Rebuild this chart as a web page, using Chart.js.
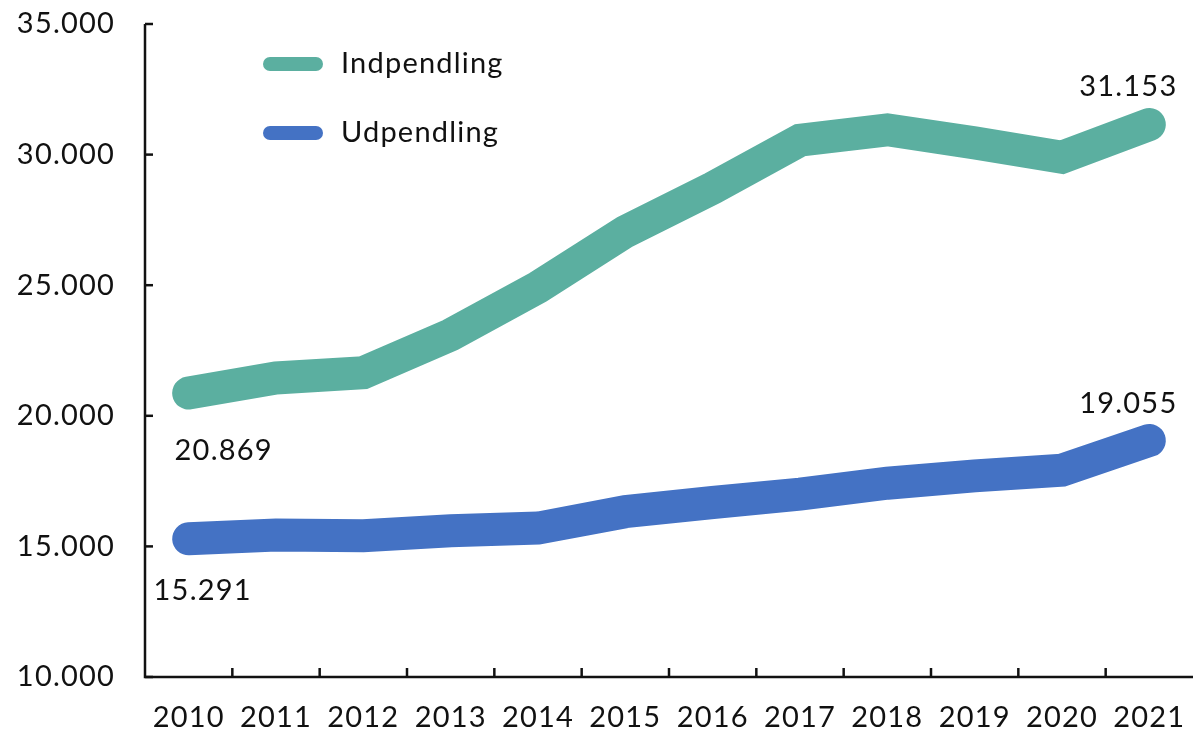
<!DOCTYPE html>
<html>
<head>
<meta charset="utf-8">
<script src="https://cdn.jsdelivr.net/npm/chart.js@4/dist/chart.umd.min.js"></script>
<style>
  html, body { margin: 0; padding: 0; background: #fff; }
  #wrap { width: 1193px; height: 729px; }
</style>
</head>
<body>
<div id="wrap"><canvas id="myChart"></canvas></div>
<script>
// Data
const years = ['2010', '2011', '2012', '2013', '2014', '2015', '2016', '2017', '2018', '2019', '2020', '2021'];
const indpendling = [20869, 21450, 21650, 23100, 24920, 27050, 28720, 30550, 30950, 30450, 29900, 31153];
const udpendling = [15291, 15440, 15410, 15600, 15700, 16330, 16680, 17000, 17420, 17700, 17920, 19055];
const seriesNames = ['Indpendling', 'Udpendling'];
const colors = ['#5bafa0', '#4472c4'];

const FONT = 'Lato, "Open Sans", sans-serif';
const FSIZE = 29;
const fmt = v => Math.round(v).toString().replace(/\B(?=(\d{3})+(?!\d))/g, '.');

// lidt bredere skrift
const spacing = {
    id: 'spacing',
    beforeDraw(chart) { chart.ctx.letterSpacing = '1.2px'; }
};

// Akser, tick-streger, legend og datalabels tegnes selv
const decor = {
    id: 'decor',
    afterDraw(chart) {
        const ctx = chart.ctx;
        const a = chart.chartArea;
        const y = chart.scales.y;
        ctx.save();
        ctx.letterSpacing = '1.2px';
        ctx.strokeStyle = '#111';
        ctx.lineWidth = 2.5;
        ctx.beginPath();
        ctx.moveTo(a.left, a.top);
        ctx.lineTo(a.left, a.bottom);
        ctx.lineTo(a.right, a.bottom);
        ctx.stroke();
        // y ticks indad
        y.ticks.forEach(t => {
            const py = y.getPixelForValue(t.value);
            ctx.beginPath();
            ctx.moveTo(a.left, py);
            ctx.lineTo(a.left + 8, py);
            ctx.stroke();
        });
        // x ticks mellem kategorier
        const step = (a.right - a.left) / years.length;
        for (let i = 1; i < years.length; i++) {
            const px = a.left + step * i;
            ctx.beginPath();
            ctx.moveTo(px, a.bottom);
            ctx.lineTo(px, a.bottom - 9);
            ctx.stroke();
        }
        // legend
        ctx.lineCap = 'round';
        ctx.lineWidth = 14;
        ctx.font = FSIZE + 'px ' + FONT;
        ctx.textBaseline = 'middle';
        ctx.textAlign = 'left';
        [64, 133].forEach((ly, i) => {
            ctx.strokeStyle = colors[i];
            ctx.beginPath();
            ctx.moveTo(270, ly);
            ctx.lineTo(316, ly);
            ctx.stroke();
            ctx.fillStyle = '#111';
            ctx.fillText(seriesNames[i], 341, ly);
        });
        // datalabels
        ctx.textAlign = 'center';
        const first = 0, last = years.length - 1;
        const m0 = chart.getDatasetMeta(0).data, m1 = chart.getDatasetMeta(1).data;
        ctx.fillText(fmt(indpendling[first]), m0[first].x + 35, m0[first].y + 58);
        ctx.fillText(fmt(udpendling[first]), m1[first].x + 14, m1[first].y + 52);
        ctx.fillText(fmt(indpendling[last]), m0[last].x - 21, m0[last].y - 38);
        ctx.fillText(fmt(udpendling[last]), m1[last].x - 21, m1[last].y - 37);
        ctx.restore();
    }
};

const ctx = document.getElementById('myChart').getContext('2d');
new Chart(ctx, {
    type: 'line',
    data: {
        labels: years,
        datasets: [indpendling, udpendling].map((d, i) => ({
            label: seriesNames[i],
            data: d,
            borderColor: colors[i],
            backgroundColor: colors[i],
            borderWidth: 33,
            borderCapStyle: 'round',
            borderJoinStyle: 'miter',
            pointRadius: 0,
            tension: 0
        }))
    },
    options: {
        responsive: true,
        maintainAspectRatio: false,
        animation: false,
        layout: { padding: { top: 24, right: 0, left: 0, bottom: 0 } },
        plugins: {
            legend: { display: false },
            tooltip: { enabled: false }
        },
        scales: {
            x: {
                offset: true,
                grid: { display: false, drawTicks: false },
                border: { display: false },
                ticks: { color: '#111', font: { family: FONT, size: FSIZE }, padding: 23, maxRotation: 0 },
                afterFit(s) { s.height = 52; s.paddingLeft = 0; s.paddingRight = 0; }
            },
            y: {
                min: 10000,
                max: 35000,
                grid: { display: false, drawTicks: false },
                border: { display: false },
                ticks: {
                    stepSize: 5000,
                    color: '#111',
                    font: { family: FONT, size: FSIZE },
                    padding: 30,
                    callback: v => fmt(v)
                },
                afterFit(s) { s.width = 145; s.paddingTop = 0; s.paddingBottom = 0; }
            }
        }
    },
    plugins: [spacing, decor]
});
</script>
</body>
</html>
